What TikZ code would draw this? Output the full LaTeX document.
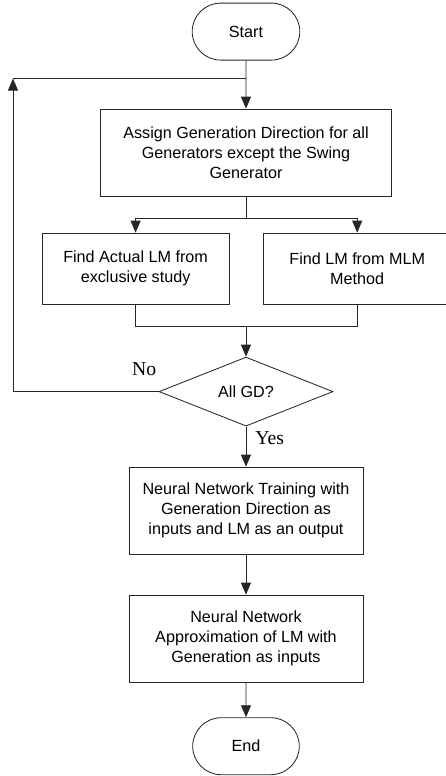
\documentclass[tikz,border=0pt]{standalone}
\usepackage{fontspec}
\setmainfont{Liberation Sans}
\newfontfamily\answerfont{Liberation Serif}
\usetikzlibrary{arrows.meta, positioning, shapes.geometric, shapes.misc}

\begin{document}
\begin{tikzpicture}[on grid, line width=0.6pt,
    >={Triangle[width=0.25cm,length=0.3cm]},
    boxtext/.style={font=\fontsize{11.5}{14.2}\selectfont},
    terminal/.style={rounded rectangle, draw=black!85, boxtext, minimum width=2.925cm, minimum height=1.425cm},
    process/.style={rectangle, draw=black!85, boxtext, align=center, inner sep=2pt},
    decision/.style={diamond, draw=black!85, boxtext, inner sep=0pt, minimum width=4.35cm, minimum height=1.725cm},
    answer/.style={font=\answerfont\fontsize{14}{16}\selectfont, inner sep=0pt},
    link/.style={draw=black!85}]

    \useasboundingbox (0,0) rectangle (11.15,-19.4);

    \node[terminal] (start) at (6.15,-0.79) {Start};
    \node[process, minimum width=7.275cm, minimum height=2.175cm] (assign) [below=3.025cm of start]
        {Assign Generation Direction for all\\Generators except the Swing\\Generator};
    \node[process, minimum width=4.675cm, minimum height=1.775cm] (actual) [below left=2.9cm and 2.76cm of assign]
        {Find Actual LM from\\exclusive study};
    \node[process, minimum width=4.675cm, minimum height=1.775cm] (mlm) [below right=2.9cm and 2.78cm of assign]
        {Find LM from MLM\\Method};
    \node[decision] (check) [below=5.975cm of assign] {All GD?};
    \node[process, minimum width=5.85cm, minimum height=2.175cm] (train) [below=2.975cm of check]
        {Neural Network Training with\\Generation Direction as\\inputs and LM as an output};
    \node[process, minimum width=5.85cm, minimum height=2.175cm] (approx) [below=3.2cm of train]
        {Neural Network\\Approximation of LM with\\Generation as inputs};
    \node[terminal, minimum width=2.9cm] (end) [below=2.69cm of approx] {End};

    \node[answer] (no) at ([shift={(-0.36,0.56)}]check.west) {No};
    \node[answer] (yes) at ([shift={(0.59,-0.29)}]check.south) {Yes};

    \coordinate[below=0.45cm of start.south] (join);
    \coordinate (corner) at ([xshift=-5.825cm]join);
    \coordinate[below=0.55cm of assign.south] (split);
    \coordinate[below=0.55cm of actual.south] (gather);
    \coordinate (merge) at (gather -| check.north);

    \draw[link, ->] (start) -- (assign);
    \draw[link] (assign) -- (split);
    \draw[link, ->] (split) -| (actual);
    \draw[link, ->] (split) -| (mlm);
    \draw[link] (actual.south) -- (gather) -| (mlm.south);
    \draw[link, ->] (merge) -- (check);
    \draw[link, ->] (check) -- (train);
    \draw[link, ->] (train) -- (approx);
    \draw[link, ->] (approx) -- (end);
    \draw[link, ->] (check.west) -- (check.west -| corner) -- (corner);
    \draw[link] (corner) -- (join);
\end{tikzpicture}
\end{document}
